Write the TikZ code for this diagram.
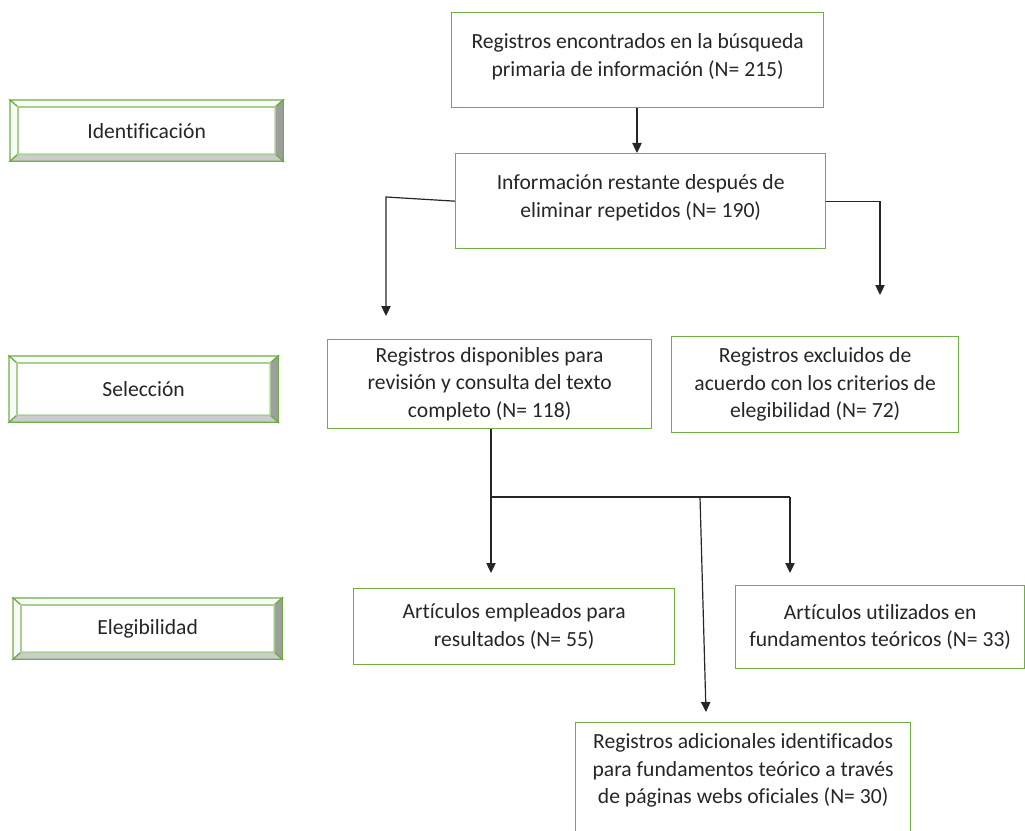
\documentclass[tikz,border=0pt]{standalone}
\usepackage{fontspec}
\setmainfont[Ligatures=NoCommon]{Carlito}
\usetikzlibrary{positioning, arrows.meta, calc}
\definecolor{verde}{HTML}{70AD47}
\definecolor{tinta}{HTML}{262626}
\newcommand{\bisel}[1]{%
  \filldraw[draw=verde, fill=verde!5] (#1.north west) -- (#1.north east) -- ($(#1.north east)+(-8,7)$) -- ($(#1.north west)+(8,7)$) -- cycle;
  \filldraw[draw=verde, fill=verde!5] (#1.north west) -- ($(#1.north west)+(8,7)$) -- ($(#1.south west)+(8,-7)$) -- (#1.south west) -- cycle;
  \filldraw[draw=verde, fill=black!38] (#1.north east) -- (#1.south east) -- ($(#1.south east)+(-8,-7)$) -- ($(#1.north east)+(-8,7)$) -- cycle;
  \filldraw[draw=verde, fill=black!20] (#1.south west) -- (#1.south east) -- ($(#1.south east)+(-8,-7)$) -- ($(#1.south west)+(8,-7)$) -- cycle;
  \draw[verde!60] ($(#1.north west)+(8,7)$) rectangle ($(#1.south east)+(-8,-7)$);
}
\tikzset{
  tam/.style 2 args={minimum width=#1*0.75pt, minimum height=#2*0.75pt},
  caja/.style={draw=verde, line width=1pt, anchor=north west, align=center, inner sep=0pt},
  fase/.style={anchor=north west, inner sep=0pt},
  flecha/.style={-{Triangle[length=7.5pt, width=7pt]}},
}

\begin{document}
\begin{tikzpicture}[x=0.75pt, y=-0.75pt, font=\fontsize{16.2}{20.6}\selectfont, text=tinta, line width=0.9pt, draw=black!85]
        \clip (0,0) rectangle (1025,831);
        \node[caja, tam={372}{95}, text depth=8pt] (encontrados) at (451,12) {Registros encontrados en la búsqueda\\primaria de información (N= 215)};
        \node[caja, tam={370}{95}, text depth=8pt] (restante) at (455,153) {Información restante después de\\eliminar repetidos (N= 190)};
        \node[caja, tam={324}{89}] (disponibles) at (327,339) {Registros disponibles para\\revisión y consulta del texto\\completo (N= 118)};
        \node[caja, tam={287}{96}] (excluidos) at (671,336) {Registros excluidos de\\acuerdo con los criterios de\\elegibilidad (N= 72)};
        \node[caja, tam={321}{76}] (empleados) at (353,588) {Artículos empleados para\\resultados (N= 55)};
        \node[caja, tam={289}{83}] (utilizados) at (735,585) {Artículos utilizados en\\fundamentos teóricos (N= 33)};
        \node[caja, tam={335}{128}] (adicionales) at (575,722) {Registros adicionales identificados\\para fundamentos teórico a través\\de páginas webs oficiales (N= 30)\\ \strut};

        \node[fase, tam={272}{60}] (identificacion) at (10,100) {Identificación};
        \node[fase, tam={268}{65}] (seleccion) at (9,356) {Selección};
        \node[fase, tam={268}{60}] (elegibilidad) at (13,598) {Elegibilidad};
        \bisel{identificacion}
        \bisel{seleccion}
        \bisel{elegibilidad}

        \coordinate (codoIzq) at (386,197);
        \coordinate (finIzq) at (386,316);
        \coordinate (finDer) at (880,295);
        \coordinate (ramal) at (491,497);
        \coordinate (finEmp) at (491,573);
        \coordinate (finUti) at (790,573);
        \coordinate (medio) at (700,497);
        \coordinate (finAdi) at (706,712);

        \draw[flecha] (encontrados.south -| 637,0) -- (restante.north -| 637,0);
        \draw[flecha] (restante.west) -- (codoIzq) -- (finIzq);
        \draw[flecha] (restante.east) -| (finDer);
        \draw (disponibles.south -| ramal) -- (ramal) -- (finUti |- ramal);
        \draw[flecha] (ramal) -- (finEmp);
        \draw[flecha] (finUti |- ramal) -- (finUti);
        \draw[flecha] (medio) -- (finAdi);
      \end{tikzpicture}
\end{document}
